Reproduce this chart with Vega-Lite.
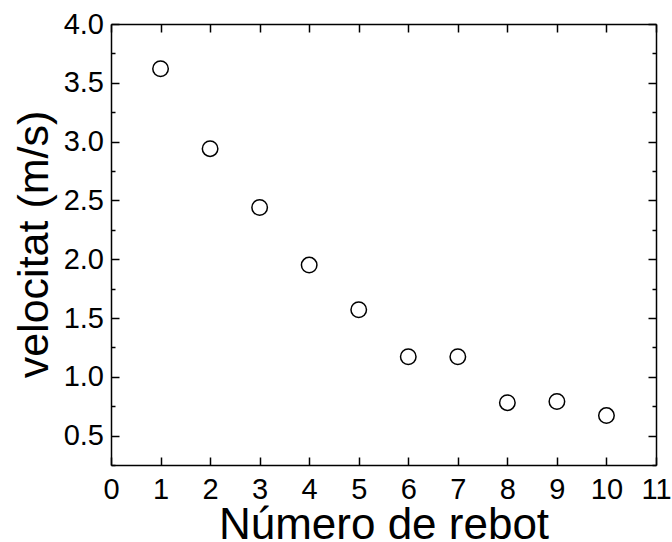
{
  "$schema": "https://vega.github.io/schema/vega-lite/v6.json",
  "width": 545,
  "height": 441,
  "autosize": {"type": "none"},
  "padding": {"left": 111, "top": 24, "right": 16, "bottom": 77},
  "background": "white",
  "config": {
    "view": {"stroke": null},
    "axis": {
      "domainColor": "black",
      "domainWidth": 1.5,
      "tickColor": "black",
      "tickWidth": 1.5,
      "labelColor": "black",
      "titleColor": "black",
      "labelFont": "Liberation Sans",
      "titleFont": "Liberation Sans",
      "titleFontWeight": "normal",
      "grid": false,
      "labelFlush": false,
      "labelOverlap": false
    }
  },
  "data": {
    "values": [
      {"rebot": 1, "velocitat": 3.62},
      {"rebot": 2, "velocitat": 2.94},
      {"rebot": 3, "velocitat": 2.44},
      {"rebot": 4, "velocitat": 1.95},
      {"rebot": 5, "velocitat": 1.57},
      {"rebot": 6, "velocitat": 1.17},
      {"rebot": 7, "velocitat": 1.17},
      {"rebot": 8, "velocitat": 0.78},
      {"rebot": 9, "velocitat": 0.79},
      {"rebot": 10, "velocitat": 0.67}
    ]
  },
  "layer": [
    {
      "mark": {"type": "point", "shape": "circle", "filled": false, "stroke": "black", "strokeWidth": 1.5, "size": 240, "opacity": 1},
      "encoding": {
        "x": {
          "field": "rebot", "type": "quantitative",
          "scale": {"domain": [0, 11], "nice": false, "zero": false},
          "axis": {
            "orient": "bottom",
            "values": [0, 1, 2, 3, 4, 5, 6, 7, 8, 9, 10, 11],
            "tickSize": -8,
            "labelFontSize": 29,
            "labelPadding": 18,
            "title": "Número de rebot",
            "titleFontSize": 44,
            "titleBaseline": "alphabetic",
            "titleY": 73
          }
        },
        "y": {
          "field": "velocitat", "type": "quantitative",
          "scale": {"domain": [0.25, 4.0], "nice": false, "zero": false},
          "axis": {
            "orient": "left",
            "values": [0.25, 0.5, 0.75, 1.0, 1.25, 1.5, 1.75, 2.0, 2.25, 2.5, 2.75, 3.0, 3.25, 3.5, 3.75, 4.0],
            "tickSize": {"condition": {"test": "round(datum.value*2) == datum.value*2", "value": -8}, "value": -4},
            "labelExpr": "round(datum.value*2) == datum.value*2 ? format(datum.value, '.1f') : ''",
            "labelFontSize": 29,
            "labelPadding": 15.5,
            "title": "velocitat (m/s)",
            "titleFontSize": 43,
            "titleBaseline": "alphabetic",
            "titleX": -64,
            "titleY": 220
          }
        }
      }
    },
    {
      "mark": {"type": "point", "shape": "circle", "filled": false, "opacity": 0},
      "encoding": {
        "x": {
          "field": "rebot", "type": "quantitative",
          "scale": {"domain": [0, 11], "nice": false, "zero": false},
          "axis": {
            "orient": "top",
            "values": [0, 1, 2, 3, 4, 5, 6, 7, 8, 9, 10, 11],
            "tickSize": -8,
            "labels": false,
            "title": null
          }
        },
        "y": {
          "field": "velocitat", "type": "quantitative",
          "scale": {"domain": [0.25, 4.0], "nice": false, "zero": false},
          "axis": {
            "orient": "right",
            "values": [0.25, 0.5, 0.75, 1.0, 1.25, 1.5, 1.75, 2.0, 2.25, 2.5, 2.75, 3.0, 3.25, 3.5, 3.75, 4.0],
            "tickSize": {"condition": {"test": "round(datum.value*2) == datum.value*2", "value": -8}, "value": -4},
            "labels": false,
            "title": null
          }
        }
      }
    }
  ],
  "resolve": {"axis": {"x": "independent", "y": "independent"}}
}
